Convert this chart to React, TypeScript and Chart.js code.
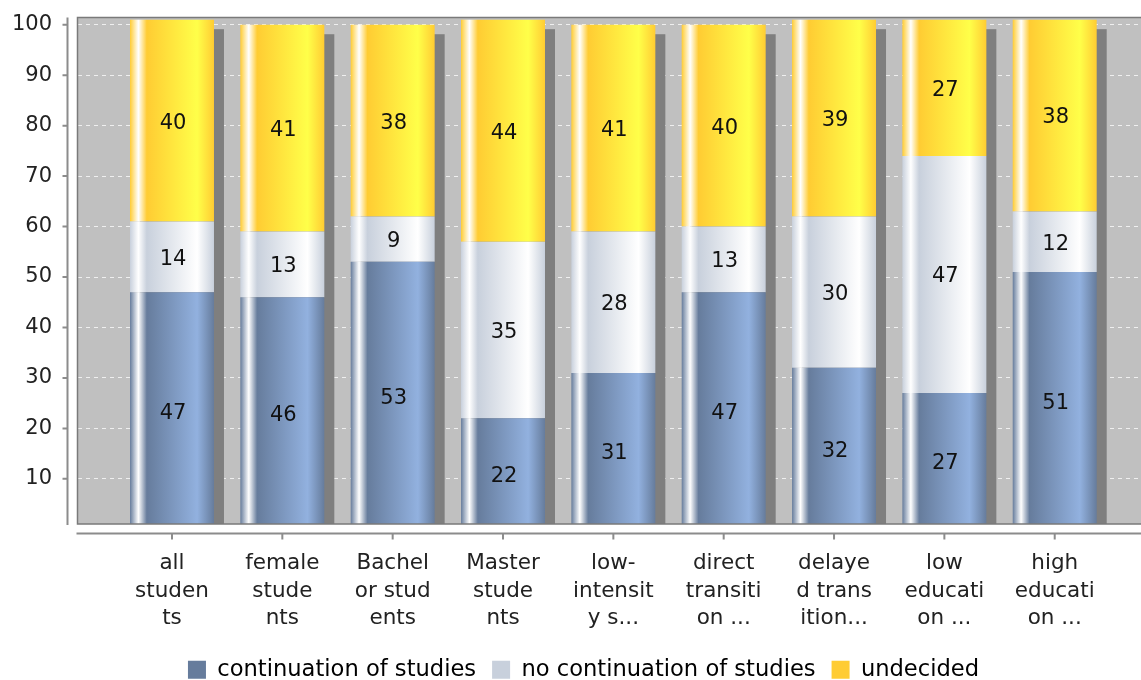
import React, { useEffect, useRef } from 'react';
import { Chart, registerables } from 'chart.js';

Chart.register(...registerables);

// ---------- data ----------
const categories: string[][] = [
  ['all', 'studen', 'ts'],
  ['female', 'stude', 'nts'],
  ['Bachel', 'or stud', 'ents'],
  ['Master', 'stude', 'nts'],
  ['low-', 'intensit', 'y s...'],
  ['direct', 'transiti', 'on ...'],
  ['delaye', 'd trans', 'ition...'],
  ['low', 'educati', 'on ...'],
  ['high', 'educati', 'on ...'],
];
const seriesNames = ['continuation of studies', 'no continuation of studies', 'undecided'];
const continuation = [47, 46, 53, 22, 31, 47, 32, 27, 51];
const noContinuation = [14, 13, 9, 35, 28, 13, 30, 47, 12];
const undecided = [40, 41, 38, 44, 41, 40, 39, 27, 38];
const yTicks = [10, 20, 30, 40, 50, 60, 70, 80, 90, 100];

// ---------- style ----------
const baseColors = ['rgb(102,124,156)', 'rgb(200,208,220)', 'rgb(255,204,51)'];
const lightColors = ['rgb(146,177,223)', 'rgb(255,255,255)', 'rgb(255,255,73)'];
const FONT = "'DejaVu Sans', sans-serif";
const BAR_PCT = 0.761;
const Y_MIN = 1.05;
const Y_MAX = 101.43;
const X_MIN = -0.8564;
const X_MAX = 8.782;
const LEGEND_PAD = 16;
const LEGEND_FONT = 22.6;

function barFill(si: number) {
  return (ctx: any) => {
    const base = baseColors[si];
    if (ctx.type !== 'data') return base;
    const chart = ctx.chart;
    const xs = chart.scales && chart.scales.x;
    if (!xs || !chart.chartArea) return base;
    const c = xs.getPixelForValue(ctx.dataIndex);
    const w = (xs.getPixelForValue(1) - xs.getPixelForValue(0)) * BAR_PCT;
    const l = c - w / 2;
    const g = chart.ctx.createLinearGradient(l, 0, l + w, 0);
    g.addColorStop(0, base);
    g.addColorStop(0.1, '#ffffff');
    g.addColorStop(0.2, base);
    g.addColorStop(0.8, lightColors[si]);
    g.addColorStop(1, base);
    return g;
  };
}

const decorPlugin = {
  id: 'decor',
  afterLayout(chart: any) {
    if (chart.legend) {
      chart.legend.top += 11;
      chart.legend.bottom += 11;
      chart.legend.left += 13;
      chart.legend.right += 13;
    }
  },
  beforeDraw(chart: any) {
    const { ctx, chartArea: a } = chart;
    ctx.save();
    ctx.fillStyle = '#c0c0c0';
    ctx.fillRect(a.left, a.top, a.right - a.left, a.bottom - a.top);
    ctx.restore();
  },
  beforeDatasetsDraw(chart: any) {
    const { ctx, chartArea: a } = chart;
    const metas = chart.data.datasets.map((_: any, i: number) => chart.getDatasetMeta(i));
    ctx.save();
    ctx.beginPath();
    ctx.rect(a.left, a.top, a.right - a.left, a.bottom - a.top);
    ctx.clip();
    ctx.fillStyle = '#7f7f7f';
    categories.forEach((_, i) => {
      let top = Infinity;
      let x = 0;
      let w = 0;
      metas.forEach((m: any) => {
        const el = m.data[i];
        if (!el) return;
        top = Math.min(top, el.y);
        x = el.x;
        w = el.width;
      });
      ctx.fillRect(x - w / 2 + 10, top + 9.5, w, a.bottom - top);
    });
    ctx.restore();
  },
  afterDatasetsDraw(chart: any) {
    const { ctx, chartArea: a, scales } = chart;
    ctx.save();
    // plot outline
    ctx.strokeStyle = '#7a7a7a';
    ctx.lineWidth = 1.5;
    ctx.beginPath();
    ctx.moveTo(a.right + 2, a.top);
    ctx.lineTo(a.left, a.top);
    ctx.lineTo(a.left, a.bottom);
    ctx.lineTo(a.right + 2, a.bottom);
    ctx.stroke();
    // y axis line + ticks
    ctx.strokeStyle = '#8c8c8c';
    ctx.lineWidth = 2;
    const ax = a.left - 10;
    ctx.beginPath();
    ctx.moveTo(ax, a.top);
    ctx.lineTo(ax, a.bottom + 1);
    yTicks.forEach((v) => {
      const py = scales.y.getPixelForValue(v);
      ctx.moveTo(ax - 5, py);
      ctx.lineTo(ax, py);
    });
    ctx.stroke();
    // x axis line + ticks
    const ay = a.bottom + 9.5;
    ctx.beginPath();
    ctx.moveTo(a.left - 1, ay);
    ctx.lineTo(a.right, ay);
    categories.forEach((_, i) => {
      const px = scales.x.getPixelForValue(i);
      ctx.moveTo(px, ay);
      ctx.lineTo(px, ay + 6);
    });
    ctx.stroke();
    // value labels
    ctx.fillStyle = '#111';
    ctx.font = `21px ${FONT}`;
    ctx.textAlign = 'center';
    ctx.textBaseline = 'middle';
    chart.data.datasets.forEach((ds: any, di: number) => {
      const meta = chart.getDatasetMeta(di);
      meta.data.forEach((el: any, i: number) => {
        const v = ds.data[i].y;
        ctx.fillText(String(v), el.x + 1, (el.y + el.base) / 2 + 2.5);
      });
    });
    ctx.restore();
  },
};

export default function App() {
  const ref = useRef<HTMLCanvasElement>(null);
  useEffect(() => {
    if (!ref.current) return;
    const series = [continuation, noContinuation, undecided];
    const legendHeight = Math.max(LEGEND_FONT, 18) + LEGEND_PAD + 10;
    const chart = new Chart(ref.current, {
      type: 'bar',
      data: {
        datasets: series.map((vals, si) => ({
          label: seriesNames[si],
          data: vals.map((v, i) => ({ x: i, y: v })),
          backgroundColor: barFill(si),
          borderWidth: 0,
          barPercentage: BAR_PCT,
          categoryPercentage: 1,
        })),
      },
      options: {
        animation: false,
        responsive: false,
        devicePixelRatio: 1,
        events: [],
        layout: { padding: { top: 17.5, left: 0, right: 0, bottom: 0 } },
        scales: {
          x: {
            type: 'linear',
            stacked: true,
            offset: false,
            min: X_MIN,
            max: X_MAX,
            afterFit: (s: any) => {
              s.height = 680 - 524 - legendHeight;
              s.paddingLeft = 0;
              s.paddingRight = 0;
            },
            afterBuildTicks: (s: any) => {
              s.ticks = categories.map((_, i) => ({ value: i }));
            },
            grid: { display: false, drawTicks: false, offset: false },
            border: { display: false },
            ticks: {
              autoSkip: false,
              maxRotation: 0,
              minRotation: 0,
              padding: 26,
              color: '#222',
              font: { family: FONT, size: 21.5, lineHeight: '27.5px' },
              callback: (v: any) => categories[Math.round(Number(v))] || '',
            },
          },
          y: {
            type: 'linear',
            stacked: true,
            min: Y_MIN,
            max: Y_MAX,
            afterFit: (s: any) => {
              s.width = 77.5;
              s.paddingTop = 0;
              s.paddingBottom = 0;
            },
            afterBuildTicks: (s: any) => {
              s.ticks = yTicks.map((v) => ({ value: v }));
            },
            grid: {
              display: true,
              drawTicks: false,
              drawOnChartArea: true,
              color: 'rgba(255,255,255,0.75)',
              lineWidth: 1,
            },
            border: { display: false, dash: [4, 4] },
            ticks: {
              padding: 25.5,
              color: '#222',
              font: { family: FONT, size: 21 },
              callback: (v: any) => String(v),
            },
          },
        },
        plugins: {
          tooltip: { enabled: false },
          legend: {
            display: true,
            position: 'bottom',
            labels: {
              boxWidth: 18,
              boxHeight: 18,
              padding: LEGEND_PAD,
              color: '#333',
              font: { family: FONT, size: LEGEND_FONT },
              generateLabels: () =>
                seriesNames.map((name, i) => ({
                  text: name,
                  fillStyle: baseColors[i],
                  strokeStyle: baseColors[i],
                  lineWidth: 0,
                  hidden: false,
                  datasetIndex: i,
                })),
            },
          },
        },
      },
      plugins: [decorPlugin],
    } as any);
    return () => chart.destroy();
  }, []);
  return (
    <div style={{ position: 'fixed', left: 0, top: 0, width: 1141, height: 680, background: '#fff' }}>
      <canvas ref={ref} width={1141} height={680} style={{ display: 'block' }} />
    </div>
  );
}
